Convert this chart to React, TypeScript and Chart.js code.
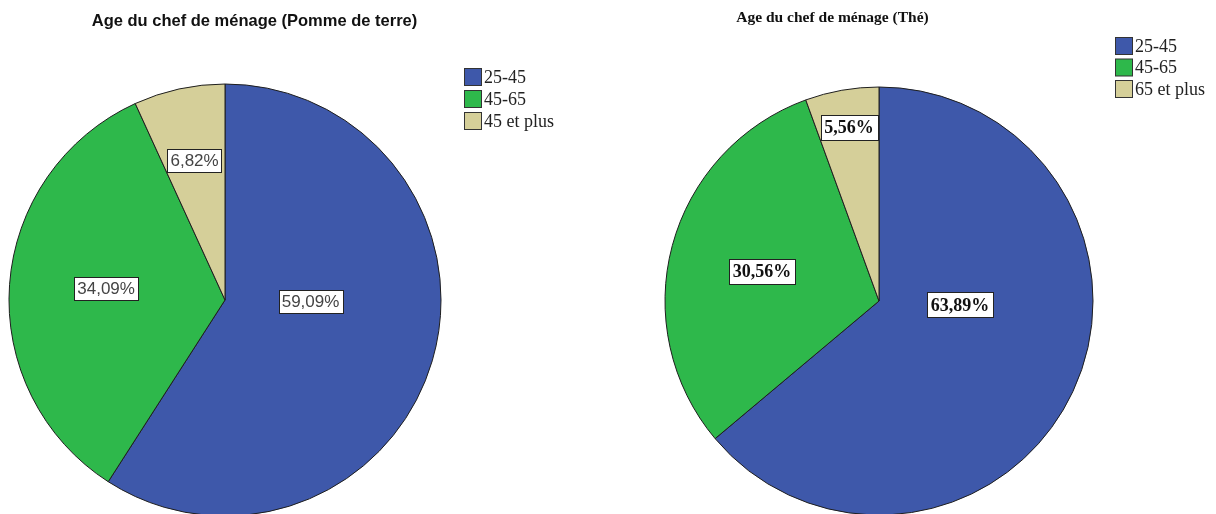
import React, { useEffect, useRef } from "react";
import { Chart, registerables } from "chart.js";

Chart.register(...registerables);

const sliceColors = ["#3E58AA", "#2EB84B", "#D5CF99"];

const leftTitle = "Age du chef de ménage (Pomme de terre)";
const leftCategories = ["25-45", "45-65", "45 et plus"];
const leftValues = [59.09, 34.09, 6.82];

const rightTitle = "Age du chef de ménage (Thé)";
const rightCategories = ["25-45", "45-65", "65 et plus"];
const rightValues = [63.89, 30.56, 5.56];

type Style = {
  titleFont: string;
  titleX: number;
  titleY: number;
  legendX: number;
  legendY: number;
  legendStep: number;
  legendFont: string;
  labelFont: string;
  labelColor: string;
  labelPad: number;
  labelH: number;
  anchors: { angle: number; frac: number }[];
};

const overlayPlugin = {
  id: "overlay",
  afterDraw(chart: any, _args: any, opts: any) {
    const s: Style = opts.style;
    const ctx = chart.ctx;
    ctx.save();
    // title
    ctx.fillStyle = "#111";
    ctx.font = s.titleFont;
    ctx.textAlign = "center";
    ctx.textBaseline = "middle";
    ctx.fillText(opts.title, s.titleX, s.titleY);
    // legend
    const labels: string[] = chart.data.labels;
    const bg: string[] = chart.data.datasets[0].backgroundColor;
    ctx.font = s.legendFont;
    ctx.textAlign = "left";
    labels.forEach((lab, i) => {
      const cy = s.legendY + i * s.legendStep;
      ctx.fillStyle = bg[i];
      ctx.fillRect(s.legendX + 0.5, cy - 8.5, 17, 17);
      ctx.strokeStyle = "#333";
      ctx.lineWidth = 1;
      ctx.strokeRect(s.legendX + 0.5, cy - 8.5, 17, 17);
      ctx.fillStyle = "#222";
      ctx.fillText(lab, s.legendX + 20, cy + 1);
    });
    // value labels
    const meta = chart.getDatasetMeta(0);
    const vals: number[] = chart.data.datasets[0].data;
    ctx.font = s.labelFont;
    ctx.textAlign = "center";
    meta.data.forEach((arc: any, i: number) => {
      const a = s.anchors[i];
      const ang = (a.angle * Math.PI) / 180;
      const px = arc.x + Math.cos(ang) * a.frac * arc.outerRadius;
      const py = arc.y + Math.sin(ang) * a.frac * arc.outerRadius;
      const txt = vals[i].toFixed(2).replace(".", ",") + "%";
      const w = ctx.measureText(txt).width + s.labelPad * 2;
      const h = s.labelH;
      const bx = Math.round(px - w / 2) + 0.5;
      const by = Math.round(py - h / 2) + 0.5;
      ctx.fillStyle = "#fff";
      ctx.fillRect(bx, by, Math.round(w), h);
      ctx.strokeStyle = "#222";
      ctx.lineWidth = 1;
      ctx.strokeRect(bx, by, Math.round(w), h);
      ctx.fillStyle = s.labelColor;
      ctx.fillText(txt, px, py + 1);
    });
    ctx.restore();
  },
};

function PieBox(props: {
  left: number;
  title: string;
  categories: string[];
  values: number[];
  radius: number;
  padding: { left: number; right: number; top: number; bottom: number };
  style: Style;
}) {
  const ref = useRef<HTMLCanvasElement | null>(null);
  useEffect(() => {
    if (!ref.current) return;
    const chart = new Chart(ref.current, {
      type: "pie",
      data: {
        labels: props.categories,
        datasets: [
          {
            data: props.values,
            backgroundColor: sliceColors,
            borderColor: "#1e1e1e",
            borderWidth: 1,
            radius: props.radius,
          } as any,
        ],
      },
      options: {
        responsive: false,
        animation: false,
        devicePixelRatio: 1,
        layout: { padding: props.padding },
        plugins: {
          legend: { display: false },
          tooltip: { enabled: false },
          title: { display: false },
          overlay: { title: props.title, style: props.style },
        } as any,
        events: [],
      },
      plugins: [overlayPlugin],
    });
    return () => chart.destroy();
  }, []);
  return (
    <canvas
      ref={ref}
      width={608}
      height={600}
      style={{ position: "absolute", left: props.left, top: 0, width: 608, height: 600, display: "block" }}
    />
  );
}

export default function App() {
  return (
    <div
      style={{
        position: "fixed",
        left: 0,
        top: 0,
        width: 1216,
        height: 514,
        overflow: "hidden",
        background: "#fff",
      }}
    >
      <PieBox
        left={0}
        title={leftTitle}
        categories={leftCategories}
        values={leftValues}
        radius={216}
        padding={{ left: 9, right: 167, top: 84, bottom: 84 }}
        style={{
          titleFont: "bold 16.5px 'Liberation Sans', Arial, sans-serif",
          titleX: 254.5,
          titleY: 21,
          legendX: 464,
          legendY: 77,
          legendStep: 22,
          legendFont: "18px 'Liberation Serif', 'Times New Roman', serif",
          labelFont: "17px 'Liberation Sans', Arial, sans-serif",
          labelColor: "#444",
          labelPad: 3,
          labelH: 23,
          anchors: [
            { angle: 1, frac: 0.396 },
            { angle: 185.5, frac: 0.553 },
            { angle: 257.7, frac: 0.661 },
          ],
        }}
      />
      <PieBox
        left={608}
        title={rightTitle}
        categories={rightCategories}
        values={rightValues}
        radius={214}
        padding={{ left: 57, right: 123, top: 87, bottom: 85 }}
        style={{
          titleFont: "bold 15.5px 'Liberation Serif', 'Times New Roman', serif",
          titleX: 224.5,
          titleY: 18,
          legendX: 507,
          legendY: 46,
          legendStep: 21.5,
          legendFont: "18px 'Liberation Serif', 'Times New Roman', serif",
          labelFont: "bold 18px 'Liberation Serif', 'Times New Roman', serif",
          labelColor: "#111",
          labelPad: 3.5,
          labelH: 25,
          anchors: [
            { angle: 2.8, frac: 0.379 },
            { angle: 194.2, frac: 0.564 },
            { angle: 260.2, frac: 0.823 },
          ],
        }}
      />
    </div>
  );
}
